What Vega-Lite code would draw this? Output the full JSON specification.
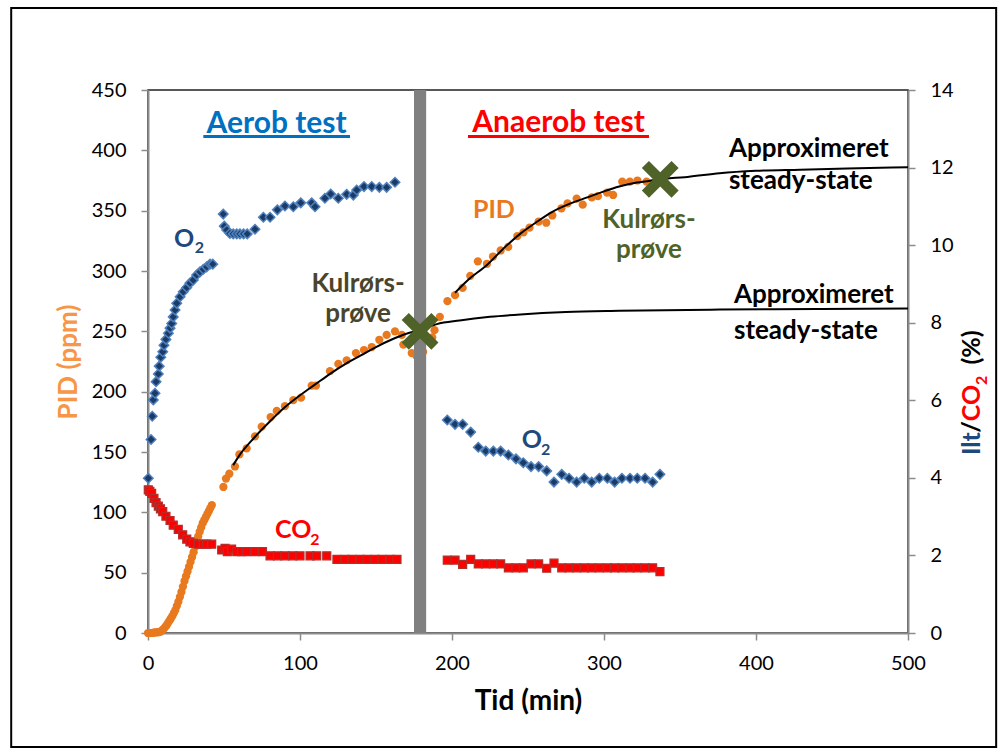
{
  "$schema": "https://vega.github.io/schema/vega-lite/v6.json",
  "width": 760,
  "height": 543,
  "autosize": {"type": "none"},
  "padding": {"left": 148, "top": 90, "right": 90, "bottom": 116},
  "background": "white",
  "config": {
    "view": {"stroke": "#222222", "strokeWidth": 1.5},
    "font": "Lato",
    "axis": {"labelFont": "Lato", "titleFont": "Lato", "grid": false, "domainColor": "#8c8c8c", "domainWidth": 2, "tickColor": "#8c8c8c", "tickWidth": 1.5, "tickSize": 7, "labelFontSize": 20, "labelColor": "#000000", "labelFlush": false}
  },
  "datasets": {
    "pid": [
      {"t":0,"v":0},{"t":1,"v":0},{"t":2,"v":0},{"t":3,"v":0.2},{"t":4,"v":0.3},{"t":5,"v":0.5},{"t":6,"v":0.6},{"t":7,"v":0.8},{"t":8,"v":1},{"t":9,"v":2},{"t":10,"v":3},{"t":11,"v":4.5},{"t":12,"v":6},{"t":13,"v":8},{"t":14,"v":10},{"t":15,"v":12},{"t":16,"v":14},{"t":17,"v":16.5},{"t":18,"v":19},{"t":19,"v":22.5},{"t":20,"v":26},{"t":21,"v":30},{"t":22,"v":34},{"t":23,"v":38.5},{"t":24,"v":43},{"t":25,"v":47},{"t":26,"v":51},{"t":27,"v":55},{"t":28,"v":59},{"t":29,"v":63},{"t":30,"v":67},{"t":31,"v":71.5},{"t":32,"v":76},{"t":33,"v":80},{"t":34,"v":84},{"t":35,"v":87.5},{"t":36,"v":91},{"t":37,"v":93.5},{"t":38,"v":96},{"t":39,"v":98.5},{"t":40,"v":101},{"t":41,"v":103.5},{"t":42,"v":106},
      {"t":49.6,"v":121},{"t":51.3,"v":128},{"t":53.5,"v":132},{"t":57.2,"v":138},{"t":60.1,"v":148},{"t":64.9,"v":153},{"t":70.4,"v":163},{"t":74.8,"v":171},{"t":80.7,"v":179},{"t":84.7,"v":184},{"t":90.1,"v":188},{"t":95.6,"v":193},{"t":100.7,"v":195},{"t":107.7,"v":205},{"t":110.5,"v":205},{"t":119.7,"v":217},{"t":125.2,"v":223},{"t":130.7,"v":226},{"t":136.8,"v":232},{"t":142.1,"v":234.5},{"t":147.2,"v":237},{"t":152.2,"v":243},{"t":157,"v":247},{"t":162.5,"v":250},{"t":167,"v":247},{"t":168,"v":239},{"t":173.5,"v":232},{"t":176.5,"v":230},{"t":181,"v":233},{"t":187,"v":245},{"t":188.5,"v":251},
      {"t":192,"v":262},{"t":197,"v":275},{"t":202,"v":280},{"t":207,"v":286},{"t":212,"v":296},{"t":217,"v":308},{"t":223,"v":306},{"t":227,"v":312},{"t":232,"v":317},{"t":237,"v":320},{"t":243,"v":329},{"t":247,"v":332},{"t":251,"v":336},{"t":257,"v":341},{"t":262,"v":340},{"t":266,"v":346},{"t":272,"v":352},{"t":276,"v":356},{"t":282,"v":360},{"t":286,"v":355},{"t":292,"v":361},{"t":296,"v":362},{"t":302,"v":365},{"t":306,"v":363},{"t":312,"v":374},{"t":317,"v":374},{"t":322,"v":375},{"t":328,"v":374},{"t":332,"v":373}
    ],
    "fitA": [
      {"t":56,"v":139},{"t":60,"v":147},{"t":70,"v":162},{"t":80,"v":175},{"t":90,"v":187},{"t":100,"v":197},{"t":110,"v":206},{"t":120,"v":215},{"t":130,"v":223},{"t":140,"v":230},{"t":150,"v":237},{"t":160,"v":243},{"t":170,"v":248},{"t":179,"v":251},{"t":190,"v":256},{"t":205,"v":259},{"t":225,"v":262},{"t":245,"v":264},{"t":275,"v":266},{"t":310,"v":267},{"t":376,"v":268},{"t":440,"v":268.5},{"t":500,"v":269}
    ],
    "fitB": [
      {"t":202,"v":282},{"t":210,"v":292},{"t":223,"v":305},{"t":235,"v":320},{"t":245,"v":331},{"t":255,"v":340},{"t":266,"v":349},{"t":278,"v":356},{"t":289,"v":361},{"t":300,"v":366},{"t":310,"v":370},{"t":320,"v":373},{"t":332,"v":375},{"t":345,"v":377},{"t":355,"v":378},{"t":376,"v":381},{"t":400,"v":383},{"t":429,"v":384},{"t":460,"v":385},{"t":500,"v":386}
    ],
    "o2": [
      {"t":0.2,"pct":3.99},{"t":2.0,"pct":4.99},{"t":2.8,"pct":5.59},{"t":3.5,"pct":6.01},{"t":4.6,"pct":6.18},{"t":5.3,"pct":6.48},{"t":6.8,"pct":6.68},{"t":7.4,"pct":6.88},{"t":8.4,"pct":7.11},{"t":9.7,"pct":7.25},{"t":10.5,"pct":7.42},{"t":11.8,"pct":7.57},{"t":13.4,"pct":7.73},{"t":14.5,"pct":7.86},{"t":15.6,"pct":7.98},{"t":16.6,"pct":8.15},{"t":17.8,"pct":8.33},{"t":18.9,"pct":8.5},{"t":21.1,"pct":8.67},{"t":23.2,"pct":8.8},{"t":25.5,"pct":8.91},{"t":27.6,"pct":9.02},{"t":29.8,"pct":9.1},{"t":32.0,"pct":9.23},{"t":34.2,"pct":9.31},{"t":36.4,"pct":9.38},{"t":38.6,"pct":9.44},{"t":40.8,"pct":9.51},{"t":42.6,"pct":9.51},
      {"t":49.5,"pct":10.8},{"t":50.2,"pct":10.49},{"t":51.8,"pct":10.39},{"t":53.9,"pct":10.3},{"t":56.1,"pct":10.29},{"t":58.4,"pct":10.29},{"t":60.5,"pct":10.29},{"t":62.9,"pct":10.29},{"t":65.3,"pct":10.29},{"t":70.4,"pct":10.41},{"t":75.9,"pct":10.72},{"t":80.3,"pct":10.72},{"t":85.1,"pct":10.91},{"t":90.1,"pct":11.01},{"t":95.6,"pct":10.99},{"t":100.5,"pct":11.09},{"t":107.7,"pct":11.09},{"t":109.9,"pct":10.99},{"t":116.4,"pct":11.21},{"t":120.2,"pct":11.32},{"t":125.2,"pct":11.21},{"t":130.7,"pct":11.31},{"t":135.1,"pct":11.29},{"t":137.3,"pct":11.42},{"t":142.1,"pct":11.51},{"t":147.2,"pct":11.51},{"t":152.2,"pct":11.49},{"t":157.0,"pct":11.49},{"t":162.5,"pct":11.62},
      {"t":196.9,"pct":5.49},{"t":202.0,"pct":5.38},{"t":207.0,"pct":5.38},{"t":212.3,"pct":5.18},{"t":217.3,"pct":4.79},{"t":222.2,"pct":4.69},{"t":227.2,"pct":4.69},{"t":232.0,"pct":4.69},{"t":237.1,"pct":4.59},{"t":242.1,"pct":4.49},{"t":246.9,"pct":4.39},{"t":252.0,"pct":4.29},{"t":257.0,"pct":4.29},{"t":262.3,"pct":4.18},{"t":267.1,"pct":3.89},{"t":272.2,"pct":4.09},{"t":277.0,"pct":3.99},{"t":282.0,"pct":3.89},{"t":287.0,"pct":3.99},{"t":291.9,"pct":3.89},{"t":296.9,"pct":3.99},{"t":302.2,"pct":3.99},{"t":307.0,"pct":3.89},{"t":311.8,"pct":3.99},{"t":317.1,"pct":3.99},{"t":321.9,"pct":3.99},{"t":327.0,"pct":3.99},{"t":332.0,"pct":3.89},{"t":336.8,"pct":4.09}
    ],
    "co2": [
      {"t":0.2,"pct":3.69},{"t":1.2,"pct":3.65},{"t":2.4,"pct":3.6},{"t":3.9,"pct":3.47},{"t":5.3,"pct":3.36},{"t":6.8,"pct":3.27},{"t":8.2,"pct":3.2},{"t":9.7,"pct":3.13},{"t":11.8,"pct":3.01},{"t":14.5,"pct":2.9},{"t":16.6,"pct":2.78},{"t":19.9,"pct":2.67},{"t":22.8,"pct":2.53},{"t":25.5,"pct":2.42},{"t":27.6,"pct":2.35},{"t":29.8,"pct":2.31},{"t":33.1,"pct":2.29},{"t":36.4,"pct":2.29},{"t":38.6,"pct":2.29},{"t":41.9,"pct":2.29},
      {"t":48.5,"pct":2.14},{"t":50.7,"pct":2.18},{"t":52.2,"pct":2.1},{"t":55.0,"pct":2.16},{"t":58.4,"pct":2.1},{"t":61.6,"pct":2.1},{"t":64.9,"pct":2.1},{"t":70.4,"pct":2.1},{"t":75.3,"pct":2.1},{"t":80.3,"pct":1.99},{"t":85.2,"pct":1.99},{"t":90.1,"pct":1.99},{"t":95.1,"pct":1.99},{"t":100,"pct":1.99},{"t":106.6,"pct":1.99},{"t":111.0,"pct":1.99},{"t":117.6,"pct":1.99},{"t":124.3,"pct":1.9},{"t":129.6,"pct":1.9},{"t":134.2,"pct":1.9},{"t":139.5,"pct":1.9},{"t":144.1,"pct":1.9},{"t":149.3,"pct":1.9},{"t":153.9,"pct":1.9},{"t":159.2,"pct":1.9},{"t":163.8,"pct":1.9},
      {"t":196.9,"pct":1.88},{"t":202.0,"pct":1.88},{"t":207.0,"pct":1.77},{"t":212.3,"pct":1.9},{"t":217.3,"pct":1.78},{"t":222.2,"pct":1.78},{"t":227.2,"pct":1.78},{"t":232.0,"pct":1.78},{"t":237.1,"pct":1.68},{"t":242.1,"pct":1.68},{"t":246.9,"pct":1.68},{"t":252.0,"pct":1.78},{"t":257.0,"pct":1.78},{"t":262.3,"pct":1.67},{"t":267.1,"pct":1.8},{"t":272.2,"pct":1.68},{"t":277.0,"pct":1.68},{"t":282.0,"pct":1.68},{"t":287.0,"pct":1.68},{"t":291.9,"pct":1.68},{"t":296.9,"pct":1.68},{"t":302.2,"pct":1.68},{"t":307.0,"pct":1.68},{"t":311.8,"pct":1.68},{"t":317.1,"pct":1.68},{"t":321.9,"pct":1.68},{"t":327.0,"pct":1.68},{"t":332.0,"pct":1.68},{"t":336.8,"pct":1.58}
    ]
  },
  "layer": [
    {
      "encoding": {
        "x": {"field": "t", "type": "quantitative", "scale": {"domain": [0, 500], "nice": false, "zero": false},
              "axis": {"values": [0, 100, 200, 300, 400, 500], "title": "Tid (min)", "titleFontSize": 28, "titleFontWeight": "bold", "titleColor": "#000000", "titlePadding": 14, "labelPadding": 13}},
        "y": {"field": "v", "type": "quantitative", "scale": {"domain": [0, 450], "nice": false, "zero": false},
              "axis": {"orient": "left", "values": [0, 50, 100, 150, 200, 250, 300, 350, 400, 450], "title": "PID (ppm)", "titleFontSize": 26, "titleFontWeight": "bold", "titleColor": "#F79646", "titlePadding": 10, "labelPadding": 15}}
      },
      "layer": [
        {
          "data": {"values": [{"t": -90, "t2": 558, "v": -94.5, "v2": 518}]},
          "mark": {"type": "rect", "fill": null, "fillOpacity": 0, "stroke": "#000000", "strokeWidth": 2, "clip": false},
          "encoding": {"x2": {"field": "t2"}, "y2": {"field": "v2"}}
        },
        {
          "data": {"name": "pid"},
          "mark": {"type": "point", "shape": "circle", "filled": true, "color": "#E8791E", "size": 68, "opacity": 1}
        },
        {
          "data": {"values": [{"t": 175, "t2": 183, "v": 0, "v2": 450}]},
          "mark": {"type": "rect", "color": "#808080"},
          "encoding": {"x2": {"field": "t2"}, "y2": {"field": "v2"}}
        },
        {
          "data": {"name": "fitA"},
          "mark": {"type": "line", "color": "#000000", "strokeWidth": 2, "interpolate": "monotone"}
        },
        {
          "data": {"name": "fitB"},
          "mark": {"type": "line", "color": "#000000", "strokeWidth": 2, "interpolate": "monotone"}
        },
        {
          "data": {"values": [{"t": 179, "v": 250}, {"t": 337, "v": 376}]},
          "mark": {"type": "point", "shape": "M-1,-0.24H-0.24V-1H0.24V-0.24H1V0.24H0.24V1H-0.24V0.24H-1Z", "angle": 45, "filled": true, "color": "#4F6228", "size": 1764, "opacity": 1}
        },
        {
          "data": {"values": [{"t": 84.6, "v": 414.5, "label": "Aerob test"}]},
          "mark": {"type": "text", "color": "#0070C0", "fontSize": 30, "fontWeight": "bold", "align": "center", "baseline": "alphabetic"},
          "encoding": {"text": {"field": "label"}}
        },
        {
          "data": {"values": [{"t": 36.4, "t2": 132.9, "v": 411.5}]},
          "mark": {"type": "rule", "color": "#0070C0", "strokeWidth": 3},
          "encoding": {"x2": {"field": "t2"}}
        },
        {
          "data": {"values": [{"t": 270.1, "v": 415.2, "label": "Anaerob test"}]},
          "mark": {"type": "text", "color": "#FF0000", "fontSize": 30, "fontWeight": "bold", "align": "center", "baseline": "alphabetic"},
          "encoding": {"text": {"field": "label"}}
        },
        {
          "data": {"values": [{"t": 210.5, "t2": 329.6, "v": 411.5}]},
          "mark": {"type": "rule", "color": "#FF0000", "strokeWidth": 3},
          "encoding": {"x2": {"field": "t2"}}
        },
        {
          "data": {"values": [{"t": 213.8, "v": 344, "label": "PID"}]},
          "mark": {"type": "text", "color": "#E8791E", "fontSize": 25, "fontWeight": "bold", "align": "left", "baseline": "alphabetic"},
          "encoding": {"text": {"field": "label"}}
        },
        {
          "data": {"values": [{"t": 17.1, "v": 320, "label": "O"}, {"t": 245.9, "v": 153.3, "label": "O"}]},
          "mark": {"type": "text", "color": "#1F497D", "fontSize": 25, "fontWeight": "bold", "align": "left", "baseline": "alphabetic"},
          "encoding": {"text": {"field": "label"}}
        },
        {
          "data": {"values": [{"t": 30.8, "v": 315, "label": "2"}, {"t": 258.6, "v": 147.5, "label": "2"}]},
          "mark": {"type": "text", "color": "#1F497D", "fontSize": 16, "fontWeight": "bold", "align": "left", "baseline": "alphabetic"},
          "encoding": {"text": {"field": "label"}}
        },
        {
          "data": {"values": [{"t": 83.6, "v": 78.7, "label": "CO"}]},
          "mark": {"type": "text", "color": "#FF0000", "fontSize": 25, "fontWeight": "bold", "align": "left", "baseline": "alphabetic"},
          "encoding": {"text": {"field": "label"}}
        },
        {
          "data": {"values": [{"t": 106.8, "v": 73, "label": "2"}]},
          "mark": {"type": "text", "color": "#FF0000", "fontSize": 16, "fontWeight": "bold", "align": "left", "baseline": "alphabetic"},
          "encoding": {"text": {"field": "label"}}
        },
        {
          "data": {"values": [{"t": 138.2, "v": 282.6, "label": "Kulrørs-"}, {"t": 138.2, "v": 257.7, "label": "prøve"}]},
          "mark": {"type": "text", "color": "#4A452A", "fontSize": 26, "fontWeight": "bold", "align": "center", "baseline": "alphabetic"},
          "encoding": {"text": {"field": "label"}}
        },
        {
          "data": {"values": [{"t": 329.6, "v": 335.6, "label": "Kulrørs-"}, {"t": 329.6, "v": 310.8, "label": "prøve"}]},
          "mark": {"type": "text", "color": "#4F6228", "fontSize": 26, "fontWeight": "bold", "align": "center", "baseline": "alphabetic"},
          "encoding": {"text": {"field": "label"}}
        },
        {
          "data": {"values": [{"t": 382.2, "v": 394.7, "label": "Approximeret"}, {"t": 382.2, "v": 367.9, "label": "steady-state"}, {"t": 385.5, "v": 273.7, "label": "Approximeret"}, {"t": 385.5, "v": 243.4, "label": "steady-state"}]},
          "mark": {"type": "text", "color": "#000000", "fontSize": 26, "fontWeight": "bold", "align": "left", "baseline": "alphabetic"},
          "encoding": {"text": {"field": "label"}}
        },
        {
          "data": {"values": [{"t": 542.1, "v": 147.5, "label": "Ilt"}]},
          "mark": {"type": "text", "color": "#1F497D", "fontSize": 25, "fontWeight": "bold", "align": "left", "baseline": "middle", "angle": 270},
          "encoding": {"text": {"field": "label"}}
        },
        {
          "data": {"values": [{"t": 542.1, "v": 166, "label": "/"}, {"t": 542.1, "v": 222.5, "label": "(%)"}]},
          "mark": {"type": "text", "color": "#000000", "fontSize": 25, "fontWeight": "bold", "align": "left", "baseline": "middle", "angle": 270},
          "encoding": {"text": {"field": "label"}}
        },
        {
          "data": {"values": [{"t": 542.1, "v": 175.5, "label": "CO"}]},
          "mark": {"type": "text", "color": "#FF0000", "fontSize": 25, "fontWeight": "bold", "align": "left", "baseline": "middle", "angle": 270},
          "encoding": {"text": {"field": "label"}}
        },
        {
          "data": {"values": [{"t": 548.7, "v": 205.5, "label": "2"}]},
          "mark": {"type": "text", "color": "#FF0000", "fontSize": 16, "fontWeight": "bold", "align": "left", "baseline": "middle", "angle": 270},
          "encoding": {"text": {"field": "label"}}
        }
      ]
    },
    {
      "encoding": {
        "x": {"field": "t", "type": "quantitative", "scale": {"domain": [0, 500], "nice": false, "zero": false},
              "axis": {"values": [0, 100, 200, 300, 400, 500], "title": "Tid (min)", "titleFontSize": 28, "titleFontWeight": "bold", "titleColor": "#000000", "titlePadding": 14, "labelPadding": 13}},
        "y": {"field": "pct", "type": "quantitative", "scale": {"domain": [0, 14], "nice": false, "zero": false},
              "axis": {"orient": "right", "values": [0, 2, 4, 6, 8, 10, 12, 14], "title": null, "labelPadding": 15}}
      },
      "layer": [
        {
          "data": {"name": "o2"},
          "mark": {"type": "point", "shape": "diamond", "filled": true, "color": "#1B3A66", "stroke": "#4F81BD", "strokeWidth": 1.5, "size": 90, "opacity": 1}
        },
        {
          "data": {"name": "co2"},
          "mark": {"type": "point", "shape": "square", "filled": true, "color": "#FF0000", "stroke": "#B0302C", "strokeWidth": 1.2, "size": 64, "opacity": 1}
        }
      ]
    }
  ],
  "resolve": {"scale": {"y": "independent"}}
}
